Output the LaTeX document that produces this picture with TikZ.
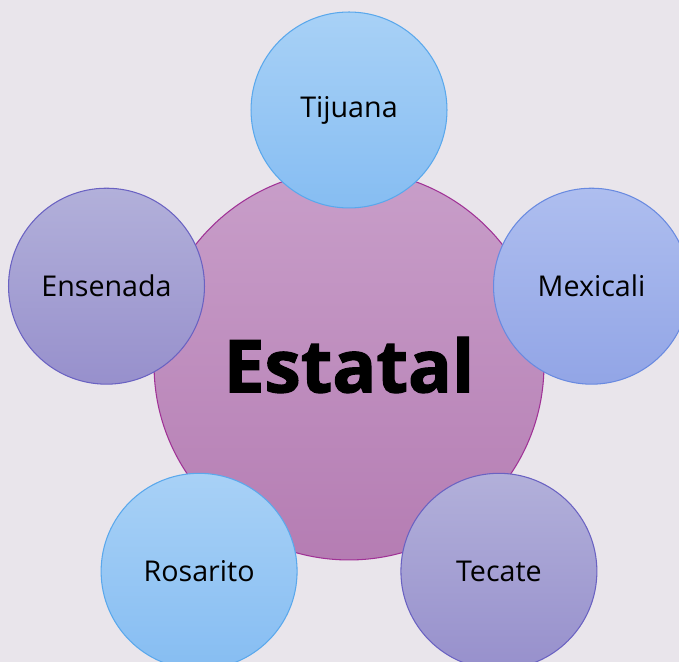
\documentclass[tikz,border=0pt]{standalone}
\usepackage{fontspec}
\setmainfont{Open Sans}
\newfontfamily\heavyfont{Open Sans}[BoldFeatures={FakeBold=1.6}]
\usetikzlibrary{positioning}
\definecolor{fondo}{RGB}{233,229,235}
\definecolor{lilatop}{RGB}{200,158,201}
\definecolor{lilabottom}{RGB}{181,125,179}
\definecolor{lilaborde}{RGB}{160,50,150}
\definecolor{celestetop}{RGB}{168,209,246}
\definecolor{celestebottom}{RGB}{134,189,242}
\definecolor{celesteborde}{RGB}{90,168,236}
\definecolor{azultop}{RGB}{174,190,239}
\definecolor{azulbottom}{RGB}{146,165,230}
\definecolor{azulborde}{RGB}{105,138,224}
\definecolor{moradotop}{RGB}{178,176,218}
\definecolor{moradobottom}{RGB}{151,144,204}
\definecolor{moradoborde}{RGB}{106,98,194}
\tikzset{
  centro/.style={
    circle,
    draw=lilaborde,
    line width=0.6pt,
    top color=lilatop,
    bottom color=lilabottom,
    minimum size=7.8cm,
    inner sep=0pt,
    font=\heavyfont\bfseries\fontsize{41.5}{48}\selectfont
  },
  ciudad/.style={
    circle,
    line width=0.6pt,
    minimum size=3.92cm,
    inner sep=0pt,
    font=\fontsize{16.3}{19}\selectfont
  },
  celeste/.style={ciudad,draw=celesteborde,top color=celestetop,bottom color=celestebottom},
  azul/.style={ciudad,draw=azulborde,top color=azultop,bottom color=azulbottom},
  morado/.style={ciudad,draw=moradoborde,top color=moradotop,bottom color=moradobottom}
}
\begin{document}
\begin{tikzpicture}[x=0.02cm,y=0.02cm]
\fill[fondo] (0,0) rectangle (679,662);
\clip (0,0) rectangle (679,662);
\useasboundingbox (0,0) rectangle (679,662);
\node[centro] (estatal) at (349,297) {Estatal};
\node[celeste] (tijuana) at (349,552) {Tijuana};
\node[azul] (mexicali) at (591.5,375.8) {Mexicali};
\node[morado] (tecate) at (498.9,90.7) {Tecate};
\node[celeste] (rosarito) at (199.1,90.7) {Rosarito};
\node[morado] (ensenada) at (106.5,375.8) {Ensenada};
\end{tikzpicture}
\end{document}
